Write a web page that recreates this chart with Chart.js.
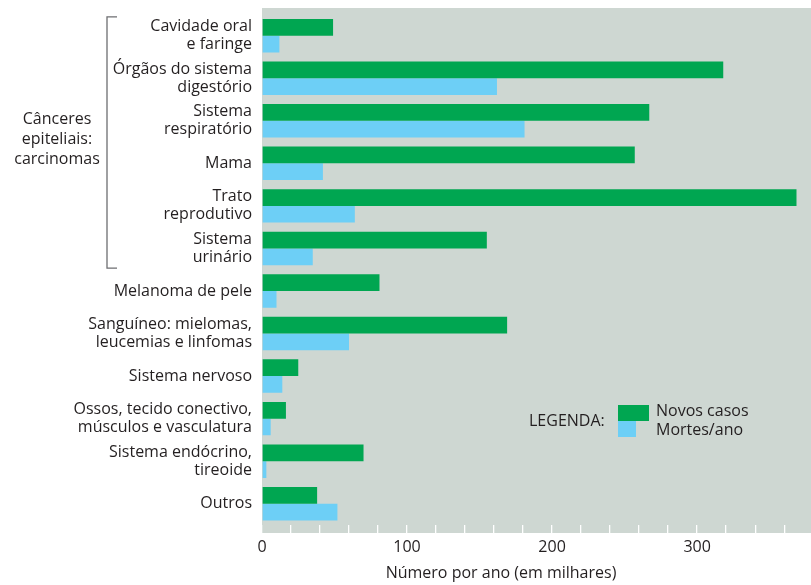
<!DOCTYPE html>
<html>
<head>
<meta charset="utf-8">
<script src="https://cdn.jsdelivr.net/npm/chart.js@4.4.1/dist/chart.umd.min.js"></script>
<style>
  html, body { margin: 0; padding: 0; background: #fff; }
  #wrap { width: 811px; height: 585px; }
</style>
</head>
<body>
<div id="wrap"><canvas id="bars"></canvas></div>
<script>
var categorias = [
  ["Cavidade oral", "e faringe"],
  ["Órgãos do sistema", "digestório"],
  ["Sistema", "respiratório"],
  "Mama",
  ["Trato", "reprodutivo"],
  ["Sistema", "urinário"],
  "Melanoma de pele",
  ["Sanguíneo: mielomas,", "leucemias e linfomas"],
  "Sistema nervoso",
  ["Ossos, tecido conectivo,", "músculos e vasculatura"],
  ["Sistema endócrino,", "tireoide"],
  "Outros"
];
var novosCasos = [49, 318, 267, 257, 368.5, 155, 81, 169, 25, 16.5, 70, 38];
var mortesAno = [12, 162, 181, 42, 64, 35, 10, 60, 14, 6, 3, 52];
var ticksX = [0, 100, 200, 300];

var fonte = "'Open Sans', sans-serif";
var corTexto = "#231f20";
var verde = "#00a651";
var azul = "#6dcff6";
var fundo = "#ced7d2";

// fundo cinza que passa um pouco das barras em cima e embaixo
var fundoPlugin = {
  id: 'fundo',
  beforeDraw: function(chart) {
    var ctx = chart.ctx, a = chart.chartArea;
    ctx.save();
    ctx.fillStyle = fundo;
    ctx.fillRect(a.left, a.top - 6.4, a.right - a.left, a.bottom - a.top + 14.4);
    ctx.restore();
  }
};

// chave dos carcinomas, legenda e titulo do eixo
var extrasPlugin = {
  id: 'extras',
  afterDraw: function(chart) {
    var ctx = chart.ctx, y = chart.scales.y;
    var passo = y.getPixelForValue(1) - y.getPixelForValue(0);
    var topo = y.getPixelForValue(0) - passo / 2 + 2.5;
    var base = y.getPixelForValue(5) + passo / 2 - 1.5;
    ctx.save();
    ctx.strokeStyle = "#6d6e71";
    ctx.lineWidth = 1.3;
    ctx.beginPath();
    ctx.moveTo(117, topo); ctx.lineTo(107, topo); ctx.lineTo(107, base); ctx.lineTo(117, base);
    ctx.stroke();

    ctx.fillStyle = corTexto;
    ctx.font = "16px " + fonte;
    ctx.textAlign = "center";
    ctx.textBaseline = "middle";
    ctx.fillText("Cânceres", 57, 119);
    ctx.fillText("epiteliais:", 57, 139);
    ctx.fillText("carcinomas", 57, 159);

    // legenda
    ctx.textAlign = "left";
    ctx.fillText("LEGENDA:", 529, 421);
    ctx.fillStyle = verde;
    ctx.fillRect(618, 405, 31, 16);
    ctx.fillStyle = azul;
    ctx.fillRect(618, 421, 18, 16);
    ctx.fillStyle = corTexto;
    ctx.fillText(chart.data.datasets[0].label, 656, 411);
    ctx.fillText(chart.data.datasets[1].label, 656, 430);

    // titulo do eixo x
    ctx.textAlign = "center";
    ctx.font = "16px " + fonte;
    ctx.fillText("Número por ano (em milhares)", 501, 573);
    ctx.restore();
  }
};

new Chart(document.getElementById('bars'), {
  type: 'bar',
  data: {
    labels: categorias,
    datasets: [
      { label: 'Novos casos', data: novosCasos, backgroundColor: verde, borderWidth: 0 },
      { label: 'Mortes/ano', data: mortesAno, backgroundColor: azul, borderWidth: 0 }
    ]
  },
  options: {
    indexAxis: 'y',
    responsive: true,
    maintainAspectRatio: false,
    animation: false,
    categoryPercentage: 0.785,
    barPercentage: 1.0,
    layout: { padding: { top: 14.4, right: 0, left: 0, bottom: 0 } },
    plugins: {
      legend: { display: false },
      tooltip: { enabled: false }
    },
    scales: {
      x: {
        type: 'linear',
        min: 0,
        max: 378.5,
        border: { display: false },
        grid: {
          drawOnChartArea: false,
          color: '#ffffff',
          lineWidth: 1.3,
          tickLength: 8
        },
        afterBuildTicks: function(scale) {
          var t = [];
          for (var v = 0; v <= 360; v += 20) t.push({ value: v });
          scale.ticks = t;
        },
        ticks: {
          autoSkip: false,
          maxRotation: 0,
          padding: 5,
          color: corTexto,
          font: { family: fonte, size: 16 },
          callback: function(v) { return ticksX.indexOf(v) >= 0 ? v : ''; }
        },
        afterFit: function(scale) { scale.height = 60; }
      },
      y: {
        border: { display: false },
        grid: { display: false, drawTicks: false },
        ticks: {
          autoSkip: false,
          padding: 10,
          color: corTexto,
          font: { family: fonte, size: 16, lineHeight: 1.125 }
        },
        afterFit: function(scale) {
          scale.width = 262;
          scale.paddingTop = 0;
          scale.paddingBottom = 0;
        }
      }
    }
  },
  plugins: [fundoPlugin, extrasPlugin]
});
</script>
</body>
</html>
